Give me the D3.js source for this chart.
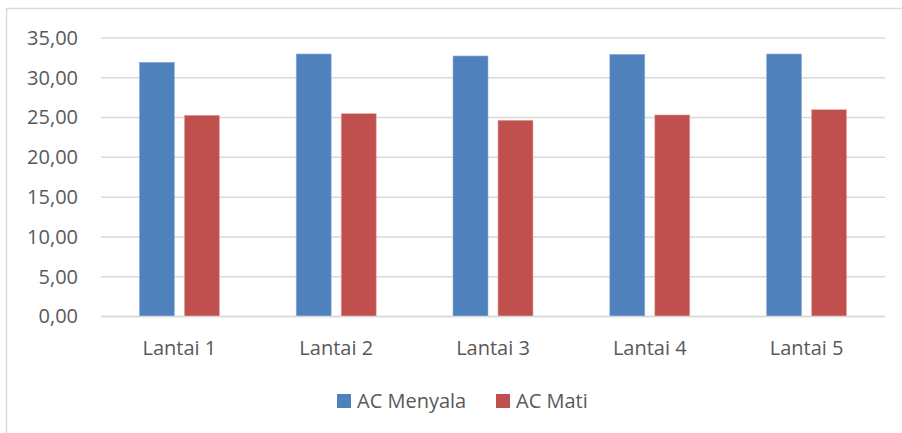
<!DOCTYPE html>
<html>
<head>
<meta charset="utf-8">
<script src="https://cdn.jsdelivr.net/npm/d3@7"></script>
<style>
  body { margin: 0; background: #fff; }
  svg text { font-family: "Open Sans", sans-serif; fill: #595959; }
</style>
</head>
<body>
<div id="chart"></div>
<script>
// Chart data
const categories = ['Lantai 1', 'Lantai 2', 'Lantai 3', 'Lantai 4', 'Lantai 5'];
const seriesNames = ['AC Menyala', 'AC Mati'];
const acMenyala = [31.95, 32.99, 32.74, 32.95, 32.99];
const acMati = [25.29, 25.49, 24.66, 25.33, 25.99];
const yTicks = [0, 5, 10, 15, 20, 25, 30, 35];
const colors = ['#4f81bd', '#c0504d'];

const width = 902, height = 433;
const margin = { top: 38, right: 17, bottom: 116.5, left: 101 };
const fontSize = 20;

const svg = d3.select('#chart').append('svg')
    .attr('width', width)
    .attr('height', height);

// chart frame (only top and left edges are inside the photo)
svg.append('rect')
    .attr('x', 6.5).attr('y', 8.5)
    .attr('width', 910).attr('height', 440)
    .attr('fill', 'none')
    .attr('stroke', '#d9d9d9')
    .attr('stroke-width', 1.5);

// Scales
const xScale = d3.scaleBand(categories, [margin.left, width - margin.right]);
const yScale = d3.scaleLinear([0, 35], [height - margin.bottom, margin.top]);
const rows = categories.map((c, i) => ({ category: c, values: [acMenyala[i], acMati[i]] }));
const barWidth = 35, barGap = 10;

// Gridlines
svg.append('g').selectAll('line').data(yTicks)
    .join('line')
    .attr('x1', margin.left)
    .attr('x2', width - margin.right)
    .attr('y1', d => yScale(d))
    .attr('y2', d => yScale(d))
    .attr('stroke', '#d9d9d9')
    .attr('stroke-width', 1.5);

// Y axis labels
const yAxis = svg.append('g')
    .attr('transform', `translate(${margin.left}, 0)`)
    .call(d3.axisLeft(yScale).tickValues(yTicks).tickSize(0).tickPadding(23)
        .tickFormat(d => d3.format('.2f')(d).replace('.', ',')));
yAxis.select('.domain').remove();
yAxis.attr('font-size', null).attr('font-family', null);
yAxis.selectAll('text').attr('font-size', fontSize).attr('fill', '#595959');

// Bars
const groups = svg.append('g').selectAll('g').data(rows)
    .join('g')
    .attr('transform', d => `translate(${xScale(d.category) + xScale.bandwidth() / 2}, 0)`);
groups.selectAll('rect').data(d => d.values)
    .join('rect')
    .attr('x', (v, i) => i === 0 ? -barWidth - barGap / 2 : barGap / 2)
    .attr('y', v => yScale(v))
    .attr('width', barWidth)
    .attr('height', v => yScale(0) - yScale(v))
    .attr('fill', (v, i) => colors[i])
    .attr('stroke', (v, i) => i === 0 ? '#95b3d7' : '#e6a9a7')
    .attr('stroke-width', 0.6);

// baseline redrawn over bars
svg.append('line')
    .attr('x1', margin.left).attr('x2', width - margin.right)
    .attr('y1', yScale(0)).attr('y2', yScale(0))
    .attr('stroke', '#d9d9d9').attr('stroke-width', 1.5);

// X axis labels
const xAxis = svg.append('g')
    .attr('transform', `translate(0, ${yScale(0)})`)
    .call(d3.axisBottom(xScale).tickSize(0).tickPadding(24));
xAxis.select('.domain').remove();
xAxis.attr('font-size', null).attr('font-family', null);
xAxis.selectAll('text').attr('font-size', fontSize).attr('fill', '#595959');

// Legend
const legendItems = [{ name: seriesNames[0], x: 337 }, { name: seriesNames[1], x: 496 }];
const legend = svg.append('g').selectAll('g').data(legendItems)
    .join('g')
    .attr('transform', d => `translate(${d.x}, 394)`);
legend.append('rect')
    .attr('width', 14).attr('height', 14)
    .attr('fill', (d, i) => colors[i]);
legend.append('text')
    .attr('x', 20).attr('y', 13.5)
    .attr('font-size', fontSize)
    .text(d => d.name);
</script>
</body>
</html>
